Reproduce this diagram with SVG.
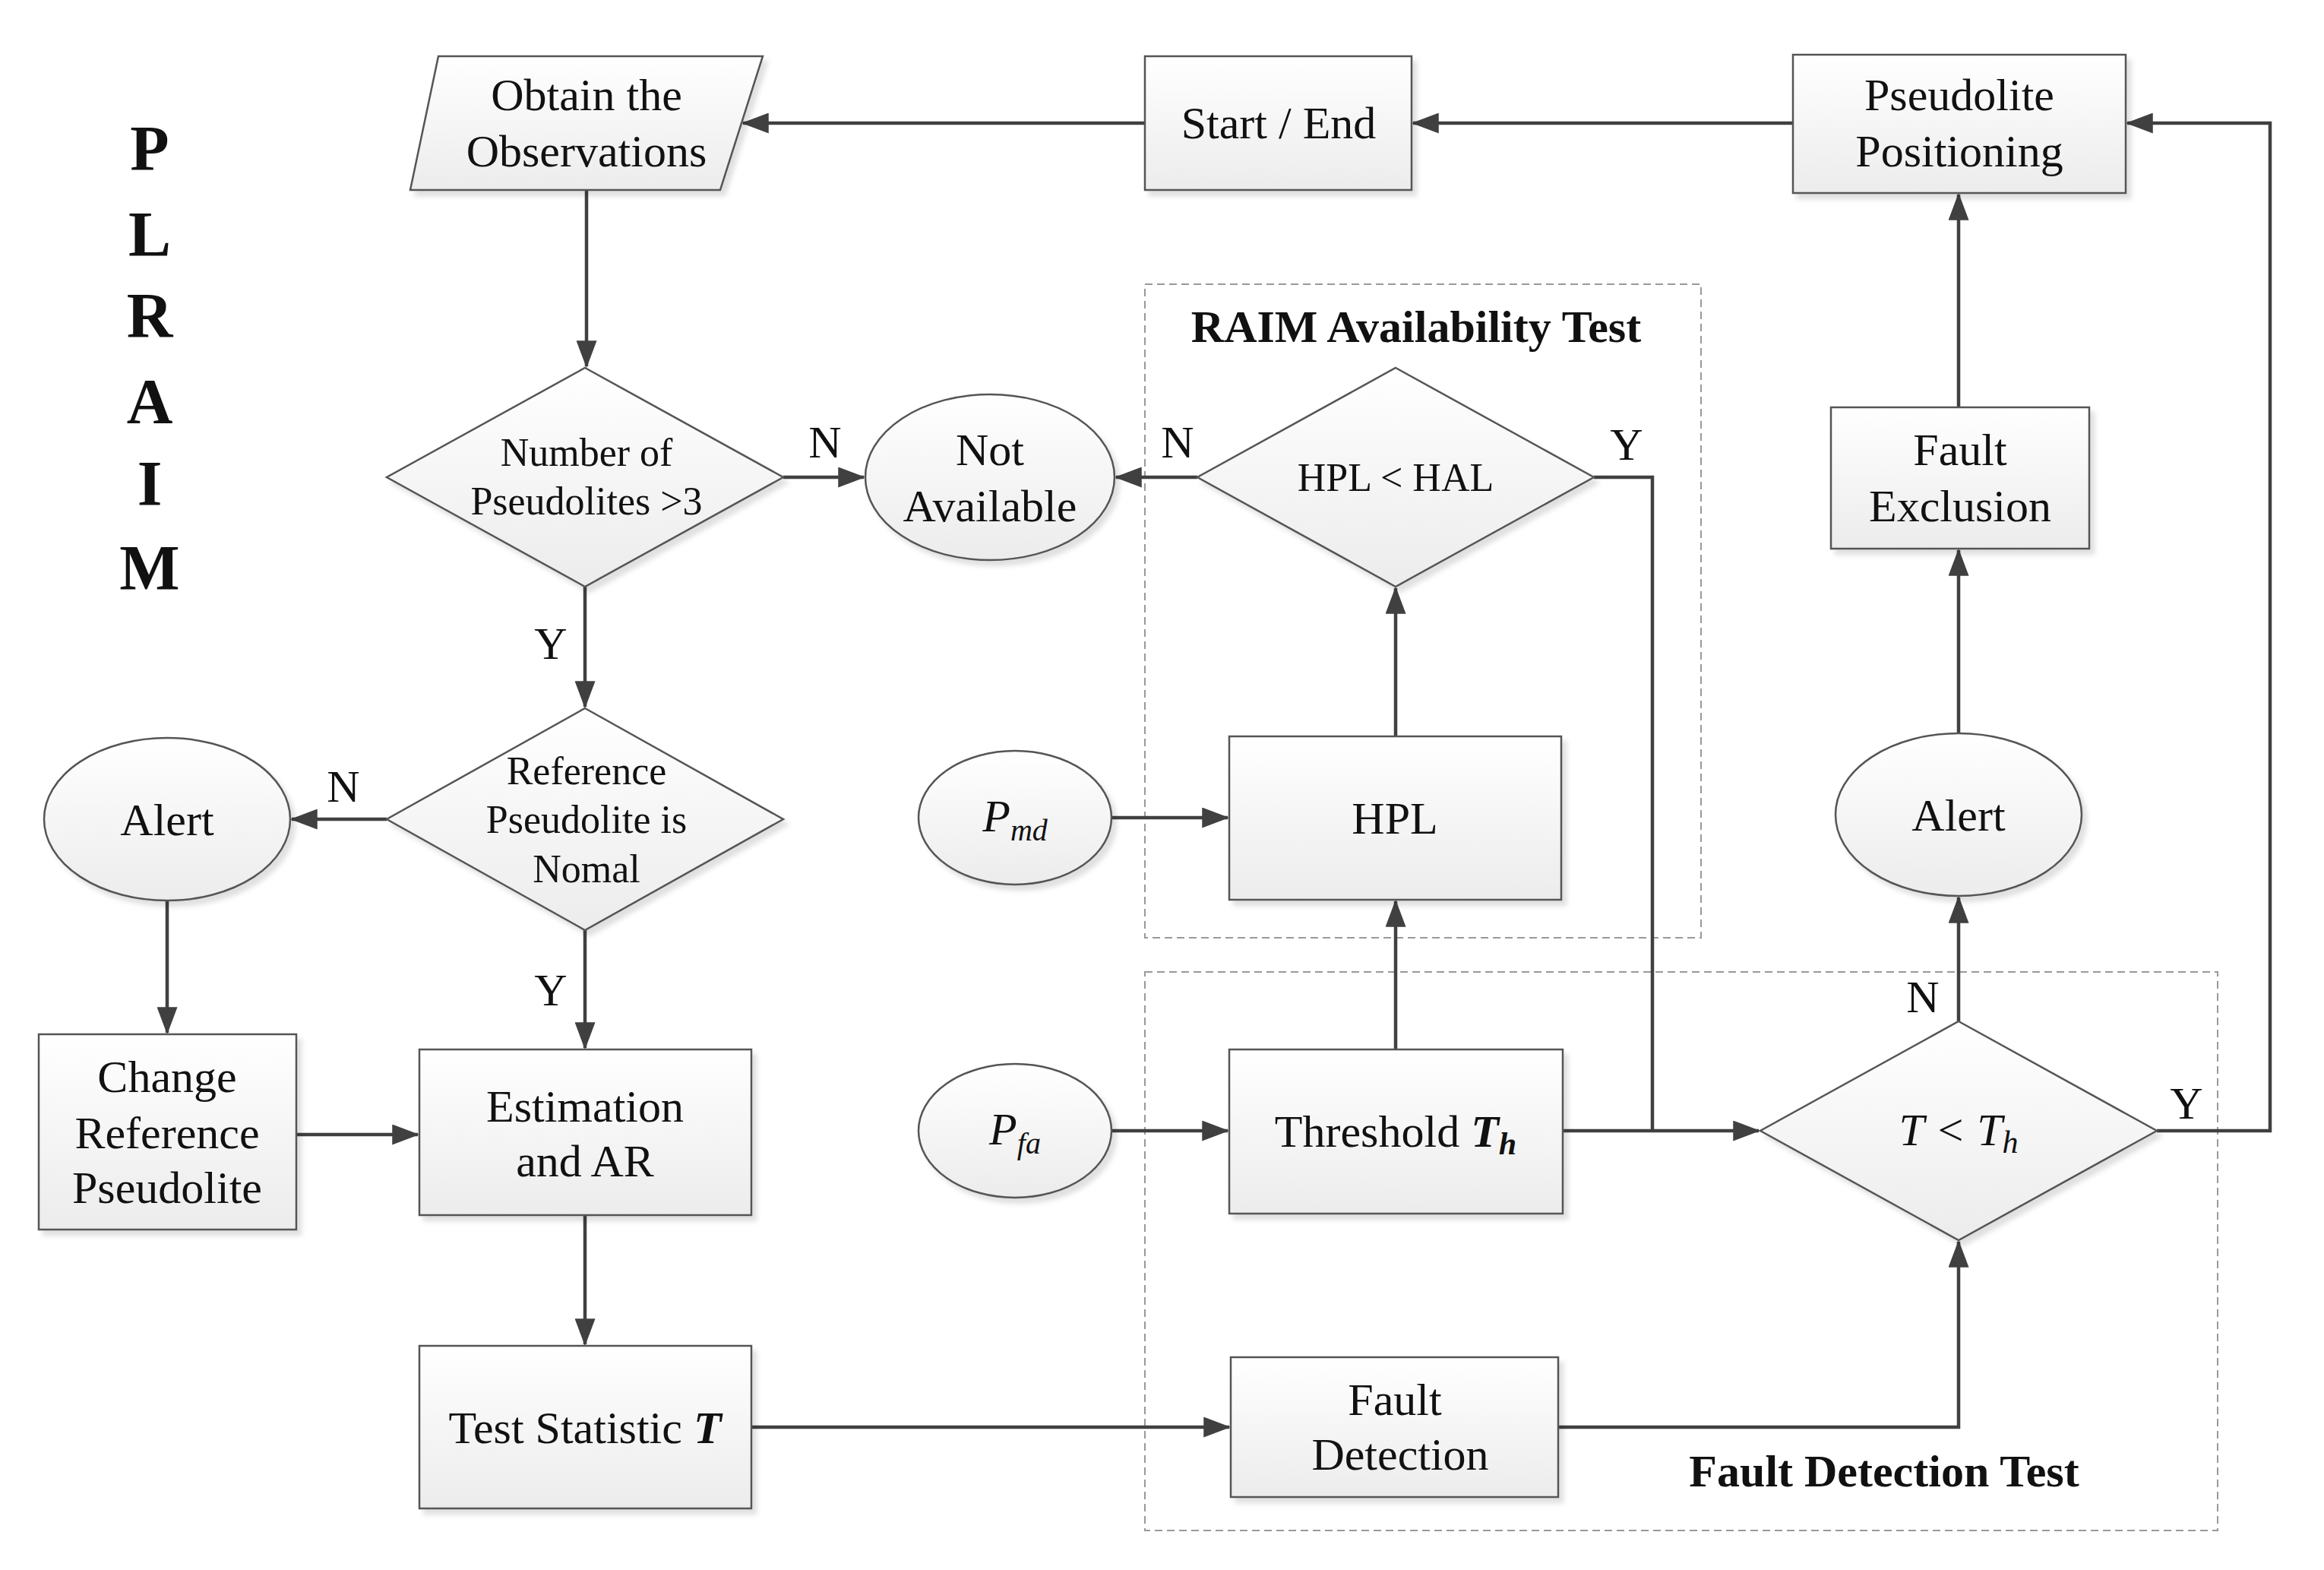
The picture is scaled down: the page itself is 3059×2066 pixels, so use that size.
<svg xmlns="http://www.w3.org/2000/svg" width="3059" height="2066" viewBox="0 0 3059 2066">
<style>
.n{fill:url(#g);stroke:#555;stroke-width:2.5;filter:url(#sh)}
.c{fill:none;stroke:#404040;stroke-width:4.5}
.t{font-family:"Liberation Serif",serif;font-size:60px;fill:#111;text-anchor:middle}
.s{font-size:52px}
.b{font-weight:bold}
.d{fill:none;stroke:#999;stroke-width:2;stroke-dasharray:10 6}
</style>
<defs>
<linearGradient id="g" x1="0" y1="0" x2="0" y2="1"><stop offset="0" stop-color="#fff"/><stop offset="1" stop-color="#ececec"/></linearGradient>
<filter id="sh" x="-10%" y="-10%" width="130%" height="130%"><feDropShadow dx="6" dy="7" stdDeviation="3" flood-color="#000" flood-opacity="0.12"/></filter>
<marker id="a" markerWidth="8" markerHeight="6" refX="7.5" refY="3" orient="auto" markerUnits="strokeWidth"><path d="M0,0 L8,3 L0,6 Z" fill="#404040"/></marker>
</defs>
<rect width="3059" height="2066" fill="#fff"/>
<g>
<text x="197" y="224" class="t b" style="font-size:84px">P</text>
<text x="197" y="337" class="t b" style="font-size:84px">L</text>
<text x="197" y="444" class="t b" style="font-size:84px">R</text>
<text x="197" y="557" class="t b" style="font-size:84px">A</text>
<text x="197" y="665" class="t b" style="font-size:84px">I</text>
<text x="197" y="776" class="t b" style="font-size:84px">M</text>
</g>
<rect class="d" x="1507" y="374" width="732" height="860"/>
<rect class="d" x="1507" y="1279" width="1412" height="735"/>
<text class="t b" x="1864" y="450" style="font-size:60px">RAIM Availability Test</text>
<text class="t b" x="2480" y="1956" style="font-size:60px">Fault Detection Test</text>
<g id="connectors">
<path class="c" marker-end="url(#a)" d="M1507,162 H978"/>
<path class="c" marker-end="url(#a)" d="M2360,162 H1860"/>
<path class="c" marker-end="url(#a)" d="M772,250 V482"/>
<path class="c" marker-end="url(#a)" d="M1031,628 H1137"/>
<path class="c" marker-end="url(#a)" d="M1576,628 H1469"/>
<path class="c" d="M2098,628 H2175 V1488"/>
<path class="c" marker-end="url(#a)" d="M770,772 V930"/>
<path class="c" marker-end="url(#a)" d="M509,1078 H384"/>
<path class="c" marker-end="url(#a)" d="M220,1185 V1359"/>
<path class="c" marker-end="url(#a)" d="M390,1493 H550"/>
<path class="c" marker-end="url(#a)" d="M770,1224 V1379"/>
<path class="c" marker-end="url(#a)" d="M770,1599 V1769"/>
<path class="c" marker-end="url(#a)" d="M989,1878 H1618"/>
<path class="c" marker-end="url(#a)" d="M2051,1878 H2578 V1634"/>
<path class="c" marker-end="url(#a)" d="M1463,1076 H1616"/>
<path class="c" marker-end="url(#a)" d="M1837,969 V774"/>
<path class="c" marker-end="url(#a)" d="M1837,1381 V1186"/>
<path class="c" marker-end="url(#a)" d="M1463,1488 H1616"/>
<path class="c" marker-end="url(#a)" d="M2057,1488 H2315"/>
<path class="c" marker-end="url(#a)" d="M2578,1344 V1181"/>
<path class="c" marker-end="url(#a)" d="M2578,965 V724"/>
<path class="c" marker-end="url(#a)" d="M2578,536 V256"/>
<path class="c" marker-end="url(#a)" d="M2839,1488 H2988 V162 H2800"/>
</g>
<g>
<text class="t" x="1086" y="602">N</text>
<text class="t" x="1550" y="602">N</text>
<text class="t" x="2141" y="605">Y</text>
<text class="t" x="725" y="867">Y</text>
<text class="t" x="452" y="1055">N</text>
<text class="t" x="725" y="1323">Y</text>
<text class="t" x="2531" y="1332">N</text>
<text class="t" x="2878" y="1472">Y</text>
</g>
<g id="obtain"><polygon class="n" points="577,74 1004,74 948,250 540,250"/><text class="t" x="772" y="145">Obtain the</text><text class="t" x="772" y="219">Observations</text></g>
<g id="startend"><rect class="n" x="1507" y="74" width="351" height="176"/><text class="t" x="1683" y="182">Start / End</text></g>
<g id="positioning"><rect class="n" x="2360" y="72" width="438" height="182"/><text class="t" x="2579" y="145">Pseudolite</text><text class="t" x="2579" y="219">Positioning</text></g>
<g id="num"><polygon class="n" points="770,484 1031,628 770,772 509,628"/><text class="t s" x="772" y="613">Number of</text><text class="t s" x="772" y="677">Pseudolites &gt;3</text></g>
<g id="notavail"><ellipse class="n" cx="1303" cy="628" rx="164" ry="109"/><text class="t" x="1303" y="612">Not</text><text class="t" x="1303" y="686">Available</text></g>
<g id="hplhal"><polygon class="n" points="1837,484 2098,628 1837,772 1576,628"/><text class="t s" x="1837" y="646">HPL &lt; HAL</text></g>
<g id="exclusion"><rect class="n" x="2410" y="536" width="340" height="186"/><text class="t" x="2580" y="612">Fault</text><text class="t" x="2580" y="686">Exclusion</text></g>
<g id="ref"><polygon class="n" points="770,932 1031,1078 770,1224 509,1078"/><text class="t s" x="772" y="1032">Reference</text><text class="t s" x="772" y="1096">Pseudolite is</text><text class="t s" x="772" y="1161">Nomal</text></g>
<g id="alert1"><ellipse class="n" cx="220" cy="1078" rx="162" ry="107"/><text class="t" x="220" y="1099">Alert</text></g>
<g id="pmd"><ellipse class="n" cx="1336" cy="1076" rx="127" ry="88"/><text class="t" x="1336" y="1094"><tspan font-style="italic">P</tspan><tspan font-style="italic" font-size="40" dy="12">md</tspan></text></g>
<g id="hpl"><rect class="n" x="1618" y="969" width="437" height="215"/><text class="t" x="1836" y="1097">HPL</text></g>
<g id="alert2"><ellipse class="n" cx="2578" cy="1072" rx="162" ry="107"/><text class="t" x="2578" y="1093">Alert</text></g>
<g id="change"><rect class="n" x="51" y="1361" width="339" height="257"/><text class="t" x="220" y="1437">Change</text><text class="t" x="220" y="1511">Reference</text><text class="t" x="220" y="1583">Pseudolite</text></g>
<g id="estimation"><rect class="n" x="552" y="1381" width="437" height="218"/><text class="t" x="770" y="1476">Estimation</text><text class="t" x="770" y="1548">and AR</text></g>
<g id="pfa"><ellipse class="n" cx="1336" cy="1488" rx="127" ry="88"/><text class="t" x="1336" y="1506"><tspan font-style="italic">P</tspan><tspan font-style="italic" font-size="40" dy="12">fa</tspan></text></g>
<g id="threshold"><rect class="n" x="1618" y="1381" width="439" height="216"/><text class="t" x="1837" y="1509">Threshold <tspan font-weight="bold" font-style="italic">T</tspan><tspan font-weight="bold" font-style="italic" font-size="42" dy="10">h</tspan></text></g>
<g id="tth"><polygon class="n" points="2578,1344 2839,1488 2578,1632 2317,1488"/><text class="t" x="2578" y="1507" style="font-style:italic">T &lt; T<tspan font-size="42" dy="10">h</tspan></text></g>
<g id="teststat"><rect class="n" x="552" y="1771" width="437" height="214"/><text class="t" x="770" y="1899">Test Statistic <tspan font-weight="bold" font-style="italic">T</tspan></text></g>
<g id="faultdet"><rect class="n" x="1620" y="1786" width="431" height="184"/><text class="t" x="1836" y="1862">Fault</text><text class="t" x="1843" y="1934">Detection</text></g>
</svg>
